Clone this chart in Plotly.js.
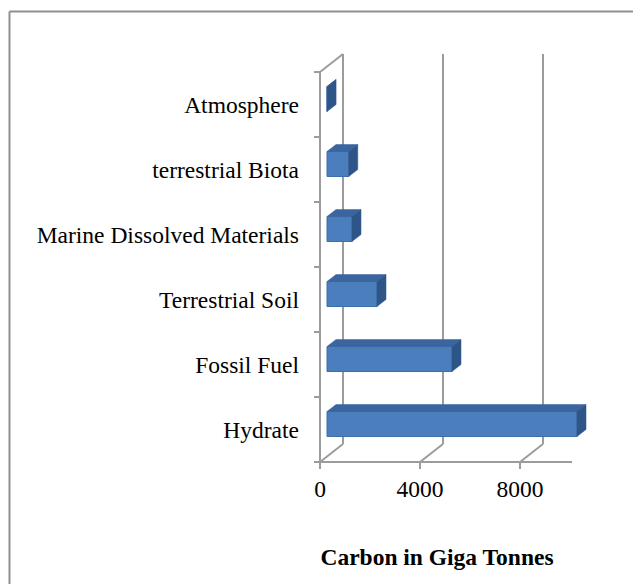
<!DOCTYPE html>
<html>
<head>
<meta charset="utf-8">
<script src="https://cdn.plot.ly/plotly-3.0.1.min.js"></script>
<style>
  html, body { margin: 0; padding: 0; background: #ffffff; }
  #chart { width: 633px; height: 584px; }
</style>
</head>
<body>
<div id="chart"></div>
<script>
// ---- data ----
const categories = ['Hydrate', 'Fossil Fuel', 'Terrestrial Soil', 'Marine Dissolved Materials', 'terrestrial Biota', 'Atmosphere'];
const carbon = [10000, 5000, 2000, 1000, 870, 3.6];
const xTickVals = [0, 4000, 8000];
const xTickText = ['0', '4000', '8000'];
const axisTitle = 'Carbon in Giga Tonnes';

// ---- geometry of the pseudo-3D look (in axis units) ----
const W = 633, H = 584;
const ML = 300, MR = 13, MT = 40, MB = 112;
const plotW = W - ML - MR, plotH = H - MT - MB;
const X0PX = 320, FLOORPX = 462;          // where x=0 and the front floor edge sit
const UX = 40;                             // x units per pixel
const UY = 1 / 65;                         // category units per pixel
const xRange = [(ML - X0PX) * UX, (ML + plotW - X0PX) * UX];
const yRange = [-0.5 - (H - MB - FLOORPX) * UY, -0.5 + (FLOORPX - MT) * UY];

const FRONT_DX = 7 * UX, FRONT_DY = 5.5 * UY;   // bar front face depth offset
const BAR_DX = 9 * UX, BAR_DY = 7 * UY;          // bar depth
const WALL_DX = 23 * UX, WALL_DY = 18 * UY;      // back wall depth
const BAR_H = 25 * UY;
const FLOOR_MAX = 10080;

const n = categories.length;
const yLow = -0.5, yHigh = n - 0.5;
const centers = categories.map((c, i) => i);
const bounds = Array.from({length: n + 1}, (_, i) => i - 0.5);

const FRONT = '#4a7ebd', FRONT_EDGE = '#3f6fa9', TOP = '#3a659f', SIDE = '#2e5588';
const GRID = '#9c9c9c';
const FONT = 'Liberation Serif, Times New Roman, serif';

const traces = [];
traces.push({
  type: 'bar', orientation: 'h',
  y: centers.map(c => c + FRONT_DY),
  x: carbon,
  base: FRONT_DX,
  width: BAR_H,
  marker: {color: FRONT, line: {width: 1, color: FRONT_EDGE}},
  hovertext: categories, hoverinfo: 'text+x',
  showlegend: false
});

carbon.forEach((v, i) => {
  const yt = i + FRONT_DY + BAR_H / 2, yb = i + FRONT_DY - BAR_H / 2;
  const xa = FRONT_DX, xb = FRONT_DX + v;
  traces.push({
    type: 'scatter', mode: 'lines', fill: 'toself', fillcolor: TOP,
    line: {width: 0.5, color: TOP}, hoverinfo: 'skip', showlegend: false,
    x: [xa, xb, xb + BAR_DX, xa + BAR_DX, xa],
    y: [yt, yt, yt + BAR_DY, yt + BAR_DY, yt]
  });
  traces.push({
    type: 'scatter', mode: 'lines', fill: 'toself', fillcolor: SIDE,
    line: {width: 0.5, color: SIDE}, hoverinfo: 'skip', showlegend: false,
    x: [xb, xb + BAR_DX, xb + BAR_DX, xb, xb],
    y: [yb, yb + BAR_DY, yt + BAR_DY, yt, yb]
  });
});

// walls / floor / gridlines as shapes behind the bars
const shapes = [];
function seg(x0, y0, x1, y1) {
  shapes.push({type: 'line', xref: 'x', yref: 'y', x0, y0, x1, y1,
    layer: 'below', line: {color: GRID, width: 2}});
}
seg(0, yLow, FLOOR_MAX, yLow);
xTickVals.forEach(g => {
  seg(g, yLow, g + WALL_DX, yLow + WALL_DY);
  seg(g + WALL_DX, yLow + WALL_DY, g + WALL_DX, yHigh + WALL_DY);
});
seg(0, yLow, 0, yHigh);
seg(0, yHigh, WALL_DX, yHigh + WALL_DY);

// outer chart frame (top and left edges visible)
const px2x = p => (p - ML) / plotW, px2y = p => (H - MB - p) / plotH;
shapes.push({type: 'line', xref: 'paper', yref: 'paper', x0: px2x(9.5), y0: px2y(11.5), x1: px2x(W + 2), y1: px2y(11.5), line: {color: '#909090', width: 2}});
shapes.push({type: 'line', xref: 'paper', yref: 'paper', x0: px2x(9.5), y0: px2y(11.5), x1: px2x(9.5), y1: px2y(H + 2), line: {color: '#909090', width: 2}});

const layout = {
  width: W, height: H,
  margin: {l: ML, r: MR, t: MT, b: MB, pad: 0},
  paper_bgcolor: '#ffffff', plot_bgcolor: 'rgba(0,0,0,0)',
  showlegend: false,
  bargap: 0,
  title: {
    text: '<b>' + axisTitle + '</b>',
    font: {family: FONT, size: 23.5, color: '#000000'},
    xref: 'container', yref: 'container',
    x: 437 / W, y: 1 - 557 / H, xanchor: 'center', yanchor: 'middle'
  },
  xaxis: {
    range: xRange, fixedrange: true,
    anchor: 'free', position: px2y(FLOORPX),
    tickmode: 'array', tickvals: xTickVals, ticktext: xTickText,
    ticks: 'outside', ticklen: 6, tickwidth: 2, tickcolor: GRID,
    tickfont: {family: FONT, size: 23.5, color: '#000000'},
    showgrid: false, zeroline: false, showline: false
  },
  yaxis: {
    range: yRange, fixedrange: true,
    tickmode: 'array', tickvals: centers, ticktext: categories,
    ticks: '', showgrid: false, zeroline: false, showline: false,
    tickfont: {family: FONT, size: 23.5, color: '#000000'}
  },
  yaxis2: {
    range: yRange, fixedrange: true, overlaying: 'y',
    anchor: 'free', position: px2x(X0PX), side: 'left',
    tickmode: 'array', tickvals: bounds,
    ticks: 'outside', ticklen: 6, tickwidth: 2, tickcolor: GRID,
    showticklabels: false, showgrid: false, zeroline: false, showline: false
  },
  shapes: shapes
};

// invisible trace that activates yaxis2 (boundary tick marks)
traces.push({type: 'scatter', x: [0], y: [0], yaxis: 'y2', mode: 'markers',
  marker: {opacity: 0}, hoverinfo: 'skip', showlegend: false});

Plotly.newPlot('chart', traces, layout, {staticPlot: true, displayModeBar: false});
</script>
</body>
</html>
